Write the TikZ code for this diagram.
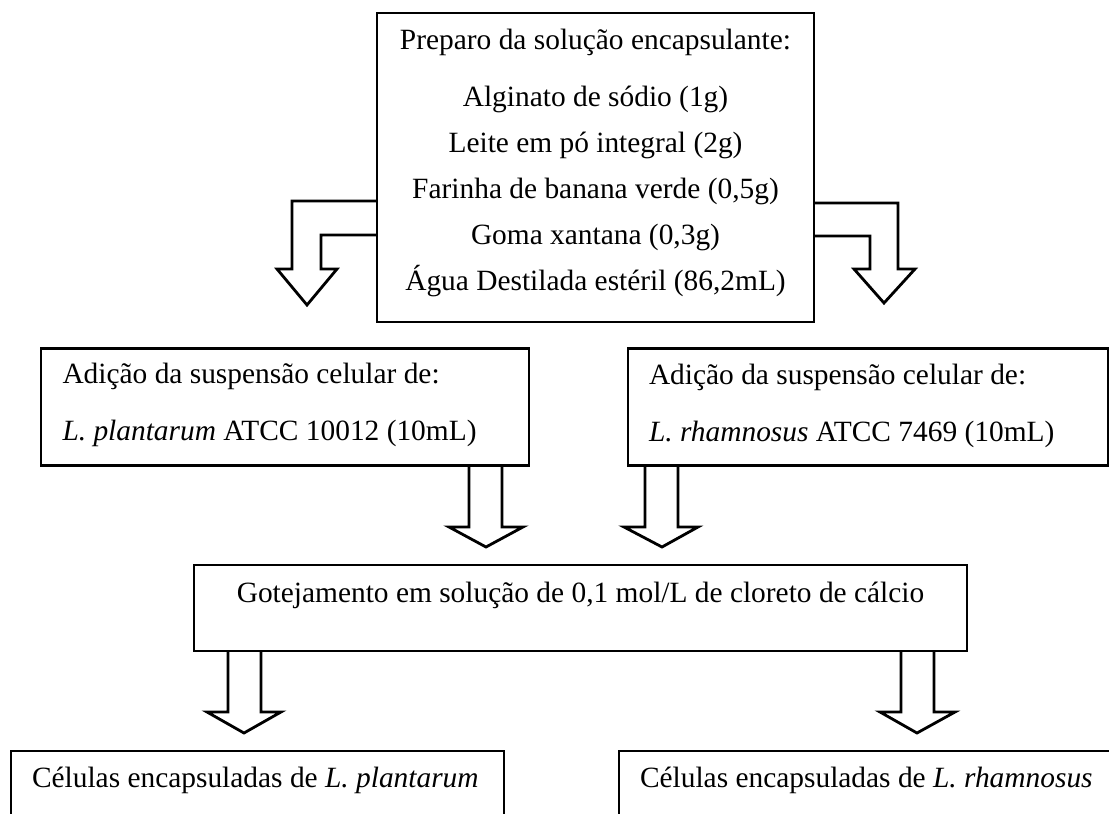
\documentclass[tikz,border=0pt]{standalone}
\usepackage{fontspec}
\setmainfont{Liberation Serif}
\begin{document}
\begin{tikzpicture}[x=1pt,y=-1pt,
  box/.style={draw, line width=2.8pt, inner sep=0pt, outer sep=0pt},
  txt/.style={inner sep=0pt, outer sep=0pt, font=\fontsize{29.4}{35}\selectfont},
  blockarrow/.style={draw, line width=2.8pt, line join=miter}]
\useasboundingbox (0,0) rectangle (1109,814);
\clip (0,0) rectangle (1109,814);
% boxes
\node[box, minimum width=437pt, minimum height=309pt] (prep) at (595.5,167.5) {};
\node[box, minimum width=488pt, minimum height=117pt] (addL) at (285,407) {};
\node[box, minimum width=480pt, minimum height=117pt] (addR) at (868,407) {};
\node[box, minimum width=773pt, minimum height=86pt] (gote) at (580.5,608) {};
\node[box, minimum width=493pt, minimum height=89pt] (celL) at (257.5,795.5) {};
\node[box, minimum width=493pt, minimum height=89pt] (celR) at (865.5,795.5) {};
% texts
\node[txt, anchor=base] (p1) at (595.5,49) {Preparo da solução encapsulante:};
\node[txt, anchor=base] (p2) at (595.5,106) {Alginato de sódio (1g)};
\node[txt, anchor=base] (p3) at (595.5,152) {Leite em pó integral (2g)};
\node[txt, anchor=base] (p4) at (595.5,198) {Farinha de banana verde (0,5g)};
\node[txt, anchor=base] (p5) at (595.5,244) {Goma xantana (0,3g)};
\node[txt, anchor=base] (p6) at (595.5,290) {Água Destilada estéril (86,2mL)};
\node[txt, anchor=base west] (aL1) at (62.5,383) {Adição da suspensão celular de:};
\node[txt, anchor=base west] (aL2) at (62.5,440) {\textit{L. plantarum} ATCC 10012 (10mL)};
\node[txt, anchor=base west] (aR1) at (649,384) {Adição da suspensão celular de:};
\node[txt, anchor=base west] (aR2) at (649,441) {\textit{L. rhamnosus} ATCC 7469 (10mL)};
\node[txt, anchor=base] (g1) at (580.5,602) {Gotejamento em solução de 0,1 mol/L de cloreto de cálcio};
\node[txt, anchor=base west] (cL1) at (32,787) {Células encapsuladas de \textit{L. plantarum}};
\node[txt, anchor=base west] (cR1) at (640,787) {Células encapsuladas de \textit{L. rhamnosus}};
% block arrows
\draw[blockarrow] ([yshift=-33.5pt]prep.west) -- ++(-85,0) -- ++(0,68) -- ++(-15,0)
  -- ++(30,36) -- ++(30,-36) -- ++(-16,0) -- ++(0,-34) -- ++(56,0);
\draw[blockarrow] ([yshift=-35.5pt]prep.east) -- ++(84,0) -- ++(0,66) -- ++(17,0)
  -- ++(-31,34) -- ++(-30,-34) -- ++(16,0) -- ++(0,-33) -- ++(-56,0);
\draw[blockarrow] ([xshift=-60pt]addL.south east) -- ++(0,61.5) -- ++(-20,0)
  -- ++(37,20) -- ++(37,-20) -- ++(-21,0) -- ++(0,-61.5);
\draw[blockarrow] ([xshift=17pt]addR.south west) -- ++(0,61.5) -- ++(-21,0)
  -- ++(38,20) -- ++(36,-20) -- ++(-20,0) -- ++(0,-61.5);
\draw[blockarrow] ([xshift=34pt]gote.south west) -- ++(0,61) -- ++(-21,0)
  -- ++(37,21) -- ++(37,-21) -- ++(-20,0) -- ++(0,-61);
\draw[blockarrow] ([xshift=-66pt]gote.south east) -- ++(0,61) -- ++(-21,0)
  -- ++(37,21) -- ++(38,-21) -- ++(-21,0) -- ++(0,-61);
\end{tikzpicture}
\end{document}
